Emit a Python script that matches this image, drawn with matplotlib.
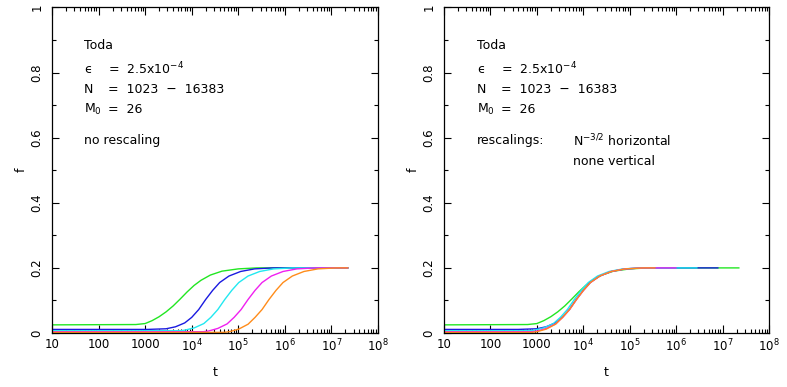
import numpy as np
import matplotlib
matplotlib.use('Agg')
import matplotlib.pyplot as plt
from matplotlib.ticker import FixedLocator, NullFormatter

# Toda chain, f(t) for N = 1023 ... 16383
# times are given as log10(t)
sizes = [1023, 2047, 4095, 8191, 16383]
colors = ['#22e622', '#1a1ae0', '#22e8f0', '#f020f0', '#ff8c1a']

logt_1023 = [1.0, 2.8, 3.0, 3.15, 3.3, 3.45, 3.6, 3.75, 3.9, 4.05, 4.2, 4.4, 4.65, 5.0, 5.4, 7.35]
f_1023 = [0.025, 0.026, 0.029, 0.038, 0.050, 0.065, 0.083, 0.104, 0.126, 0.146, 0.162,
          0.178, 0.190, 0.197, 0.2, 0.2]

logt_2047 = [1.0, 3.05, 3.45, 3.65, 3.85, 4.0, 4.15, 4.3, 4.45, 4.6, 4.8, 5.05, 5.35, 5.75, 7.35]
f_2047 = [0.011, 0.011, 0.013, 0.019, 0.031, 0.048, 0.072, 0.103, 0.131, 0.155, 0.175,
          0.189, 0.197, 0.2, 0.2]

logt_4095 = [1.0, 3.76, 3.86, 4.06, 4.26, 4.41, 4.56, 4.71, 4.86, 5.01, 5.21, 5.46, 5.76, 6.16, 7.35]
f_4095 = [0.007, 0.007, 0.009, 0.016, 0.029, 0.048, 0.072, 0.103, 0.131, 0.155, 0.175,
          0.189, 0.197, 0.2, 0.2]

logt_8191 = [1.0, 4.25, 4.36, 4.56, 4.76, 4.91, 5.06, 5.21, 5.36, 5.51, 5.71, 5.96, 6.26, 6.66, 7.35]
f_8191 = [0.004, 0.004, 0.006, 0.014, 0.028, 0.048, 0.072, 0.103, 0.131, 0.155, 0.175,
          0.189, 0.197, 0.2, 0.2]

logt_16383 = [1.0, 4.7, 4.81, 5.01, 5.21, 5.36, 5.51, 5.66, 5.81, 5.96, 6.16, 6.41, 6.71, 7.11, 7.35]
f_16383 = [0.002, 0.002, 0.004, 0.012, 0.027, 0.048, 0.072, 0.103, 0.131, 0.155, 0.175,
           0.189, 0.197, 0.2, 0.2]

logtimes = [logt_1023, logt_2047, logt_4095, logt_8191, logt_16383]
values = [f_1023, f_2047, f_4095, f_8191, f_16383]

n_ref = 1023
scale_exp = -1.5  # horizontal rescaling N^(-3/2)

xtick_vals = [10, 100, 1000, 1e4, 1e5, 1e6, 1e7, 1e8]
xtick_text = ['10', '100', '1000', r'$\mathregular{10^4}$', r'$\mathregular{10^5}$',
              r'$\mathregular{10^6}$', r'$\mathregular{10^7}$', r'$\mathregular{10^8}$']
ytick_vals = [0, 0.2, 0.4, 0.6, 0.8, 1]
ytick_text = ['0', '0.2', '0.4', '0.6', '0.8', '1']

plt.rcParams['font.family'] = ['DejaVu Sans']
plt.rcParams['mathtext.fontset'] = 'dejavusans'

fig = plt.figure(figsize=(7.87, 3.87), dpi=100)
ax1 = fig.add_axes([52 / 787, 54 / 387, 326 / 787, 325.5 / 387])
ax2 = fig.add_axes([444 / 787, 54 / 387, 325 / 787, 325.5 / 387])


def style_axes(ax):
    ax.set_xscale('log')
    ax.set_xlim(10, 1e8)
    ax.set_ylim(0, 1)
    ax.set_xticks(xtick_vals)
    ax.set_xticklabels(xtick_text)
    ax.xaxis.set_minor_locator(FixedLocator(
        [m * 10 ** k for k in range(1, 8) for m in range(2, 10)]))
    ax.xaxis.set_minor_formatter(NullFormatter())
    ax.set_yticks(ytick_vals)
    ax.set_yticklabels(ytick_text, rotation=90, va='center')
    ax.yaxis.set_minor_locator(FixedLocator(np.arange(0.1, 1.0, 0.2)))
    ax.tick_params(which='both', direction='in', top=True, right=True,
                   width=0.8, labelsize=8.5)
    ax.tick_params(axis='x', which='major', length=6, pad=3.5)
    ax.tick_params(axis='x', which='minor', length=3)
    ax.tick_params(axis='y', which='major', length=5, pad=6)
    ax.tick_params(axis='y', which='minor', length=3)
    for sp in ax.spines.values():
        sp.set_linewidth(0.9)
    ax.set_xlabel('t', fontsize=9, labelpad=8)
    ax.set_ylabel('f', fontsize=9, labelpad=2)


def header(ax, x0):
    kw = dict(transform=ax.transAxes, fontsize=9, va='center', ha='left')
    ax.text(x0, 0.882, 'Toda', **kw)
    ax.text(x0, 0.811, '\u03f5', **kw)
    ax.text(x0 + 0.074, 0.811, '=  2.5x10$^{-4}$', **kw)
    ax.text(x0, 0.749, 'N', **kw)
    ax.text(x0 + 0.074, 0.749, '=  1023  \u2212  16383', **kw)
    ax.text(x0, 0.687, 'M$_0$', **kw)
    ax.text(x0 + 0.074, 0.687, '=  26', **kw)


for ax in (ax1, ax2):
    style_axes(ax)

for n, lt, f, c in zip(sizes, logtimes, values, colors):
    t = 10 ** np.array(lt)
    ax1.plot(t, f, color=c, lw=1.0)
    ax2.plot(t * (n / n_ref) ** scale_exp, f, color=c, lw=1.0)

header(ax1, 0.098)
ax1.text(0.098, 0.590, 'no rescaling', transform=ax1.transAxes, fontsize=9, va='center')

header(ax2, 0.102)
ax2.text(0.102, 0.590, 'rescalings:', transform=ax2.transAxes, fontsize=9, va='center')
ax2.text(0.397, 0.590, 'N$^{-3/2}$ horizontal', transform=ax2.transAxes, fontsize=9, va='center')
ax2.text(0.397, 0.528, 'none vertical', transform=ax2.transAxes, fontsize=9, va='center')

fig.savefig('out.png', dpi=100)
